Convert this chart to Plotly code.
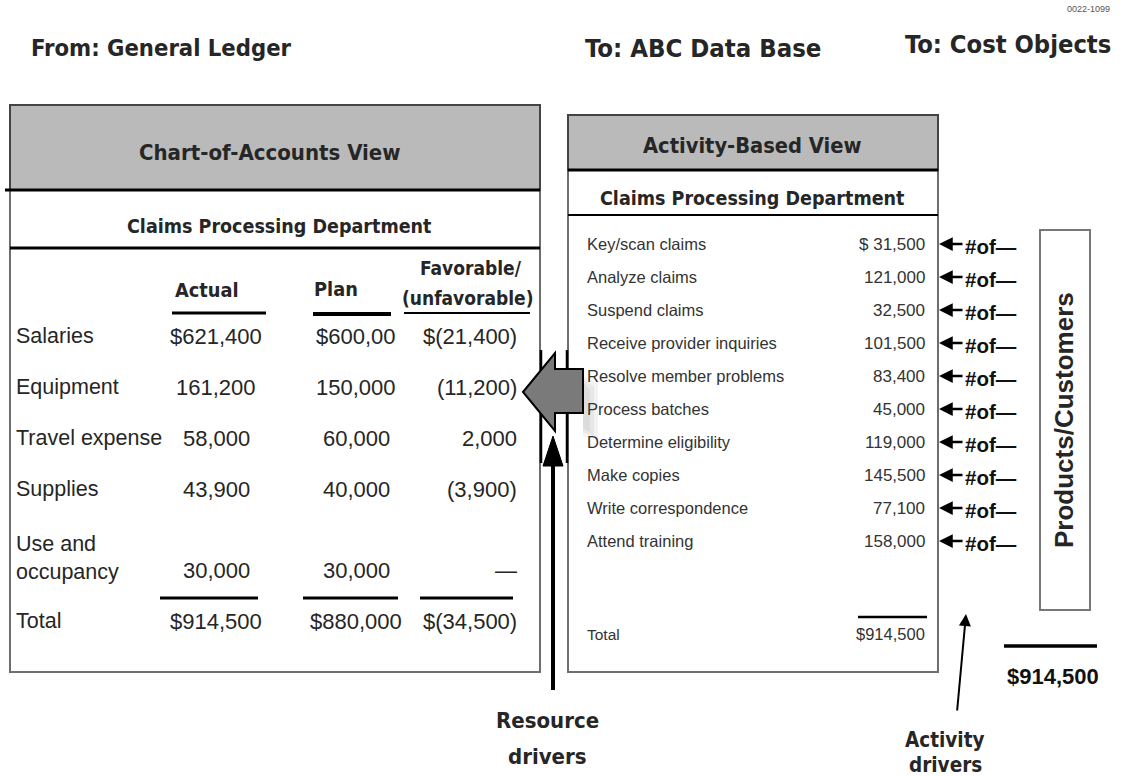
import plotly.graph_objects as go

# ---------------- data ----------------
gl_accounts = ["Salaries", "Equipment", "Travel expense", "Supplies", "Use and<br>occupancy", "Total"]
gl_actual = ["$621,400", "161,200", "58,000", "43,900", "30,000", "$914,500"]
gl_plan = ["$600,00", "150,000", "60,000", "40,000", "30,000", "$880,000"]
gl_variance = ["$(21,400)", "(11,200)", "2,000", "(3,900)", "—", "$(34,500)"]
gl_columns = ["Actual", "Plan", "Favorable/<br>(unfavorable)"]

activities = ["Key/scan claims", "Analyze claims", "Suspend claims", "Receive provider inquiries",
              "Resolve member problems", "Process batches", "Determine eligibility", "Make copies",
              "Write correspondence", "Attend training"]
activity_costs = [31500, 121000, 32500, 101500, 83400, 45000, 119000, 145500, 77100, 158000]
activity_total = 914500
driver_label = "#of—"

# ---------------- styling ----------------
W, H = 1129, 776
COND = "Liberation Sans Narrow, Arial Narrow, DejaVu Sans Condensed, sans-serif"
BODY = "Liberation Sans, Arial, sans-serif"
TXT = "#262626"
GRAY_FILL = "#bababa"
BORDER = "#6e6e6e"

fig = go.Figure()
fig.update_layout(
    width=W, height=H, margin=dict(l=0, r=0, t=0, b=0),
    paper_bgcolor="white", plot_bgcolor="white", showlegend=False,
    xaxis=dict(range=[0, W], visible=False, fixedrange=True),
    yaxis=dict(range=[H, 0], visible=False, fixedrange=True),
)


def txt(x, y, s, size, family=BODY, anchor="left", bold=False, color=TXT, **kw):
    fig.add_annotation(x=x, y=y, xref="x", yref="y", text=f"<b>{s}</b>" if bold else s,
                       showarrow=False, xanchor=anchor, yanchor="middle",
                       font=dict(size=size, family=family, color=color), **kw)


def line(x0, y0, x1, y1, w=3, color="black"):
    fig.add_shape(type="line", x0=x0, y0=y0, x1=x1, y1=y1, xref="x", yref="y",
                  line=dict(color=color, width=w))


def rect(x0, y0, x1, y1, fill=None, lc=BORDER, w=2):
    fig.add_shape(type="rect", x0=x0, y0=y0, x1=x1, y1=y1, xref="x", yref="y",
                  fillcolor=fill if fill else "rgba(0,0,0,0)", line=dict(color=lc, width=w))


# ---------------- titles ----------------
txt(1112, 9, "0022-1099", 9, anchor="right", color="#555")
txt(29, 48, "From: General Ledger", 23.6, COND, bold=True)
txt(583, 48, "To: ABC Data Base", 25.5, COND, bold=True)
txt(1113, 44, "To: Cost Objects", 25.3, COND, anchor="right", bold=True)

# ---------------- left box: chart of accounts ----------------
rect(10, 105, 540, 672)
rect(10, 105, 540, 190, fill=GRAY_FILL, lc="#444")
line(5, 190, 540, 190, 3)
line(10, 248, 540, 248, 3)
txt(270, 152, "Chart-of-Accounts View", 22, COND, anchor="center", bold=True)
txt(279, 226, "Claims Processing Department", 19.5, COND, anchor="center", bold=True)

col_center = [216, 356, 468]
txt(207, 290, gl_columns[0], 19.8, COND, anchor="center", bold=True)
txt(336, 289, gl_columns[1], 19.8, COND, anchor="center", bold=True)
fav_lines = gl_columns[2].split("<br>")
txt(471, 268, fav_lines[0], 19, COND, anchor="center", bold=True)
txt(467, 298, fav_lines[1], 19, COND, anchor="center", bold=True)
line(172, 313, 266, 313, 3)
line(313, 314, 391, 314, 4)
line(404, 313, 530, 313, 2)

for i, acct in enumerate(gl_accounts):
    y = 336 + 51 * i if i < 4 else 570 + 51 * (i - 4)
    ylab = y - 12 if "<br>" in acct else y
    txt(14, ylab, acct, 21.5, align="left")
    txt(col_center[0], y, gl_actual[i], 22, anchor="center")
    txt(col_center[1], y, gl_plan[i], 22, anchor="center")
    txt(519, y, gl_variance[i], 22, anchor="right")
line(160, 598, 258, 598, 3)
line(303, 598, 398, 598, 3)
line(420, 598, 513, 598, 3)

# ---------------- right box: activity based view ----------------
rect(568, 115, 938, 672)
rect(568, 115, 938, 170, fill=GRAY_FILL, lc="#444")
line(568, 170, 938, 170, 3)
line(568, 215, 938, 215, 2)
txt(752, 145, "Activity-Based View", 21.7, COND, anchor="center", bold=True)
txt(752, 198, "Claims Processing Department", 19.5, COND, anchor="center", bold=True)

for i, (act, cost) in enumerate(zip(activities, activity_costs)):
    y = 244 + 33 * i
    txt(585, y, act, 16.5, color="#333")
    val = f"$ {cost:,}" if i == 0 else f"{cost:,}"
    txt(927, y, val, 17, anchor="right", color="#333")
    fig.add_annotation(x=939, y=y, ax=964, ay=y, xref="x", yref="y", axref="x", ayref="y",
                       text="", showarrow=True, arrowhead=2, arrowsize=1.1, arrowwidth=2.5,
                       arrowcolor="black")
    txt(963, y + 2, driver_label, 20.5, bold=True, color="#111")

line(858, 617, 927, 617, 2.5)
txt(585, 634, "Total", 15.5, color="#333")
txt(927, 634, f"${activity_total:,}", 16.5, anchor="right", color="#333")

# ---------------- cost objects ----------------
rect(1040, 230, 1090, 610, lc="#777", w=2)
txt(1064, 420, "Products/Customers", 26, anchor="center", bold=True, textangle=-90)
line(1004, 646, 1097, 646, 3.5)
txt(1053, 676, f"${activity_total:,}", 22, anchor="center", bold=True, color="#111")

# ---------------- resource drivers arrows ----------------
line(541, 350, 541, 463, 2.5)
line(567, 350, 567, 463, 2.5)
for k, op in enumerate([0.07, 0.07, 0.07]):
    fig.add_shape(type="path",
                  path=f"M 583 {376 + 3 * k} L {598 - 4 * k} {384 + 3 * k} L {598 - 4 * k} {440 - 4 * k} L 583 {436 - 4 * k} Z",
                  xref="x", yref="y", fillcolor=f"rgba(90,90,90,{op})", line=dict(width=0))
fig.add_shape(type="path", path="M 523 392 L 555 353 L 555 369 L 583 369 L 583 413 L 555 413 L 555 431 Z",
              xref="x", yref="y", fillcolor="#7a7a7a", line=dict(color="black", width=2))
line(553, 462, 553, 690, 4)
fig.add_shape(type="path", path="M 553 436 L 543 466 L 563 466 Z", xref="x", yref="y",
              fillcolor="black", line=dict(color="black", width=1))
txt(547, 720, "Resource", 22, COND, anchor="center", bold=True)
txt(547, 756, "drivers", 22, COND, anchor="center", bold=True)

# ---------------- activity drivers ----------------
fig.add_annotation(x=966, y=614, ax=957, ay=712, xref="x", yref="y", axref="x", ayref="y",
                   text="", showarrow=True, arrowhead=2, arrowsize=1.2, arrowwidth=2,
                   arrowcolor="black")
txt(945, 740, "Activity", 20.5, COND, anchor="center", bold=True)
txt(945, 765, "drivers", 20.5, COND, anchor="center", bold=True)

fig.write_html("out.html", config={"displayModeBar": False},
               post_script="document.body.style.margin='0';document.body.style.overflow='hidden';")
